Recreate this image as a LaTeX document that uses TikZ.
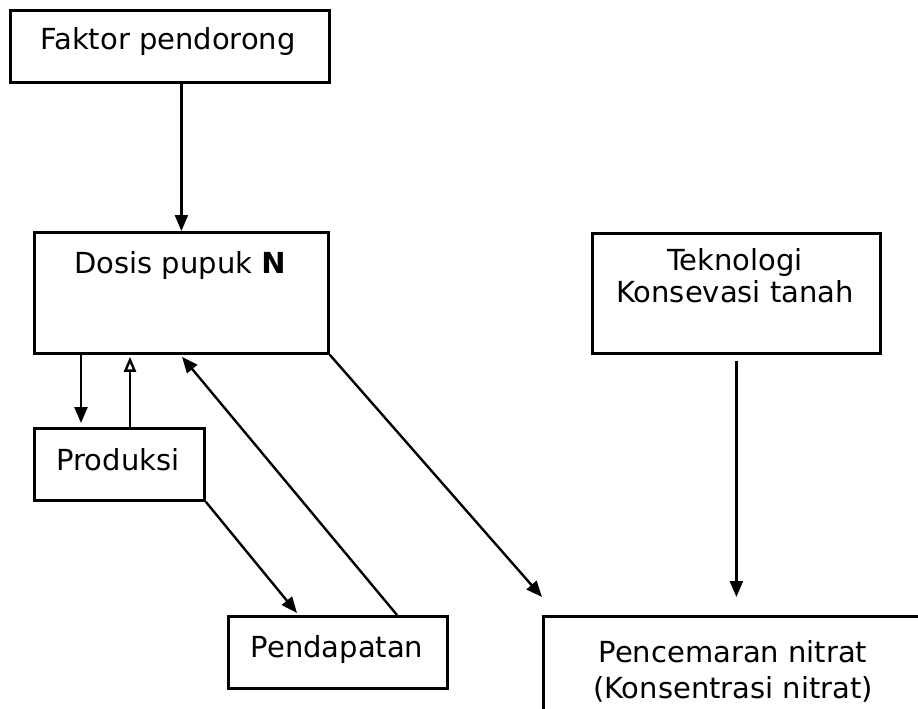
\documentclass[tikz,border=0pt]{standalone}
\usepackage{fontspec}
\setmainfont{DejaVu Sans}
\usetikzlibrary{arrows.meta,calc}
\begin{document}
\begin{tikzpicture}[x=1pt,y=-1pt,
  box/.style={draw,line width=2.8pt,rectangle,inner sep=0pt,anchor=north west},
  txt/.style={font=\fontsize{29}{32}\selectfont,inner sep=0pt,anchor=base,align=center},
  arr/.style={line width=2.4pt,-{Triangle[length=16pt,width=13pt]}},
  arro/.style={line width=2.4pt,-{Triangle[open,length=15pt,width=12pt,line width=2.4pt]}}]
\useasboundingbox (0,0) rectangle (918,709);
\clip (0,0) rectangle (918,709);
\fill[white] (0,0) rectangle (918,709);
% boxes
\node[box,minimum width=319pt,minimum height=72pt] (faktor) at (9,9) {};
\node[box,minimum width=294pt,minimum height=121pt] (dosis) at (33,231) {};
\node[box,minimum width=288pt,minimum height=120pt] (tek) at (591,232) {};
\node[box,minimum width=170pt,minimum height=72pt] (prod) at (33,427) {};
\node[box,minimum width=219pt,minimum height=72pt] (pend) at (227,615) {};
\node[box,minimum width=383pt,minimum height=110pt] (pnc) at (542,615) {};
% texts
\node[txt] (faktorT) at (168,50) {Faktor pendorong};
\node[txt] (dosisT) at (180,273) {Dosis pupuk \textbf{N}};
\node[txt] (tekT) at (735,302) {Teknologi\\[0pt]Konsevasi tanah};
\node[txt] (prodT) at (118,470) {Produksi};
\node[txt] (pendT) at (337,657) {Pendapatan};
\node[txt] (pncT) at (733,698) {Pencemaran nitrat\\[4pt](Konsentrasi nitrat)};
% connectors
\draw[arr] (faktor.south -| dosis.north) -- (dosis.north);
\draw[arr] ([xshift=48pt]dosis.south west) -- ([xshift=48pt,yshift=4pt]prod.north west);
\draw[arro] ([xshift=97pt]prod.north west) -- ([xshift=97pt,yshift=-2pt]dosis.south west);
\draw[arr] (prod.south east) -- ([xshift=70pt,yshift=2pt]pend.north west);
\draw[arr] ([xshift=170pt]pend.north west) -- ([xshift=149pt,yshift=-2pt]dosis.south west);
\draw[arr] (dosis.south east) -- ([yshift=18pt]pnc.north west);
\draw[arr] ([yshift=-6pt]tek.south) -- ($(tek.south |- pnc.north)+(0,-18)$);
\end{tikzpicture}
\end{document}
